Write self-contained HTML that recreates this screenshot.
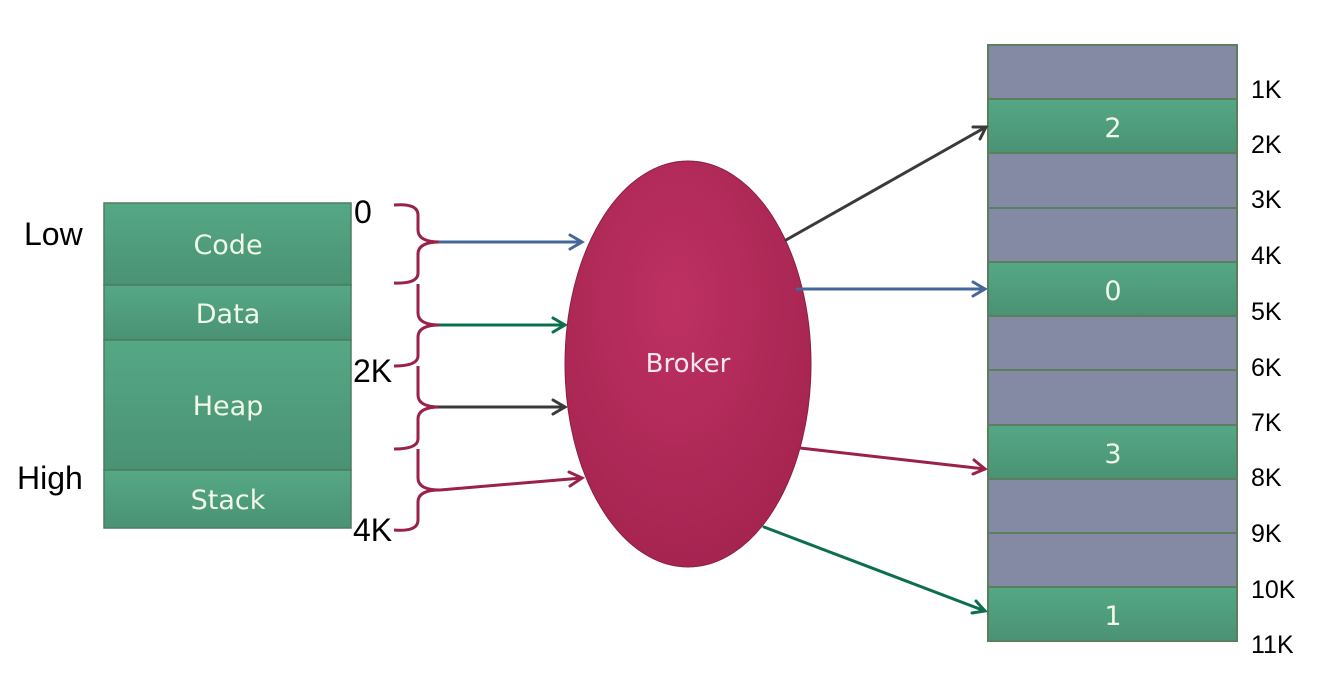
<!DOCTYPE html>
<html><head><meta charset="utf-8"><style>
html,body{margin:0;padding:0;background:#fff;width:1340px;height:688px;overflow:hidden}
svg{display:block}
.lbl{font-family:"Liberation Sans",sans-serif;font-size:32px;fill:#000}
.rl{font-family:"Liberation Sans",sans-serif;font-size:25px;fill:#000}
.w{font-family:"DejaVu Sans","Liberation Sans",sans-serif;font-size:27px;fill:#f0f8e8;text-anchor:middle}
</style></head><body>
<svg width="1340" height="688" viewBox="0 0 1340 688">
<defs>
<linearGradient id="g" x1="0" y1="0" x2="0" y2="1"><stop offset="0" stop-color="#55a885"/><stop offset="1" stop-color="#4a9274"/></linearGradient>
<radialGradient id="r" cx="0.45" cy="0.35" r="0.7"><stop offset="0" stop-color="#bd3162"/><stop offset="1" stop-color="#a4234f"/></radialGradient>
</defs>
<g stroke="#4d7d60" stroke-width="1.5">
<rect x="104" y="203" width="247" height="82" fill="url(#g)"/>
<rect x="104" y="285" width="247" height="55" fill="url(#g)"/>
<rect x="104" y="340" width="247" height="130" fill="url(#g)"/>
<rect x="104" y="470" width="247" height="58" fill="url(#g)"/>
</g>
<text class="w" x="228" y="254">Code</text>
<text class="w" x="228" y="323">Data</text>
<text class="w" x="228" y="415">Heap</text>
<text class="w" x="228" y="509">Stack</text>
<text class="lbl" x="24" y="245">Low</text>
<text class="lbl" x="17" y="489">High</text>
<text class="lbl" x="354" y="223">0</text>
<text class="lbl" x="353" y="382">2K</text>
<text class="lbl" x="353" y="541">4K</text>
<g fill="none" stroke="#9a2148" stroke-width="3">
<path d="M394 205 Q418 203 418 215 L418 230 Q418 242 440 242 Q418 242 418 254 L418 273 Q418 284 394 283"/>
<path d="M418 284 Q418 290 418 296 L418 313 Q418 325 440 325 Q418 325 418 337 L418 356 Q418 366 394 366"/>
<path d="M418 366 Q418 372 418 378 L418 395 Q418 407 440 407 Q418 407 418 419 L418 439 Q418 449 394 449"/>
<path d="M418 449 Q418 455 418 461 L418 478 Q418 490 440 490 Q418 490 418 502 L418 520 Q418 532 394 530"/>
</g>
<g fill="none" stroke-width="3" stroke-linecap="round">
<path d="M440 242 L582 242 M570 235 L582 242 L570 249" stroke="#45679a"/>
<path d="M440 325 L565 325 M553 318 L565 325 L553 332" stroke="#0b6e4f"/>
<path d="M440 407 L565 407 M553 400 L565 407 L553 414" stroke="#3a3a3a"/>
<path d="M440 490 L582 478 M569 472 L582 478 L570 486" stroke="#9a2148"/>
</g>
<ellipse cx="688" cy="364" rx="123" ry="203" fill="url(#r)" stroke="#8a1e44" stroke-width="1"/>
<text x="688" y="372" font-family="DejaVu Sans,Liberation Sans,sans-serif" font-size="26" fill="#f4e8ee" text-anchor="middle">Broker</text>
<g stroke="#5a7e5e" stroke-width="2">
<rect x="988" y="45" width="249" height="54" fill="#8489a4"/>
<rect x="988" y="99" width="249" height="54" fill="url(#g)"/>
<rect x="988" y="153" width="249" height="55" fill="#8489a4"/>
<rect x="988" y="208" width="249" height="54" fill="#8489a4"/>
<rect x="988" y="262" width="249" height="54" fill="url(#g)"/>
<rect x="988" y="316" width="249" height="54" fill="#8489a4"/>
<rect x="988" y="370" width="249" height="55" fill="#8489a4"/>
<rect x="988" y="425" width="249" height="54" fill="url(#g)"/>
<rect x="988" y="479" width="249" height="54" fill="#8489a4"/>
<rect x="988" y="533" width="249" height="54" fill="#8489a4"/>
<rect x="988" y="587" width="249" height="54" fill="url(#g)"/>
</g>
<text class="w" x="1113" y="137">2</text>
<text class="w" x="1113" y="300">0</text>
<text class="w" x="1113" y="463">3</text>
<text class="w" x="1113" y="625">1</text>
<text class="rl" x="1251" y="98">1K</text>
<text class="rl" x="1251" y="153">2K</text>
<text class="rl" x="1251" y="208">3K</text>
<text class="rl" x="1251" y="264">4K</text>
<text class="rl" x="1251" y="320">5K</text>
<text class="rl" x="1251" y="376">6K</text>
<text class="rl" x="1251" y="431">7K</text>
<text class="rl" x="1251" y="486">8K</text>
<text class="rl" x="1251" y="542">9K</text>
<text class="rl" x="1251" y="598">10K</text>
<text class="rl" x="1251" y="653">11K</text>
<g fill="none" stroke-width="3" stroke-linecap="round">
<path d="M786 240 L986 127 M973 127 L986 127 L980 139" stroke="#3a3a3a"/>
<path d="M797 289 L985 289 M973 282 L985 289 L973 296" stroke="#45679a"/>
<path d="M800 448 L985 469 M974 460 L985 469 L973 474" stroke="#9a2148"/>
<path d="M764 527 L985 611 M976 601 L985 611 L972 613" stroke="#0b6e4f"/>
</g>
</svg>
</body></html>
